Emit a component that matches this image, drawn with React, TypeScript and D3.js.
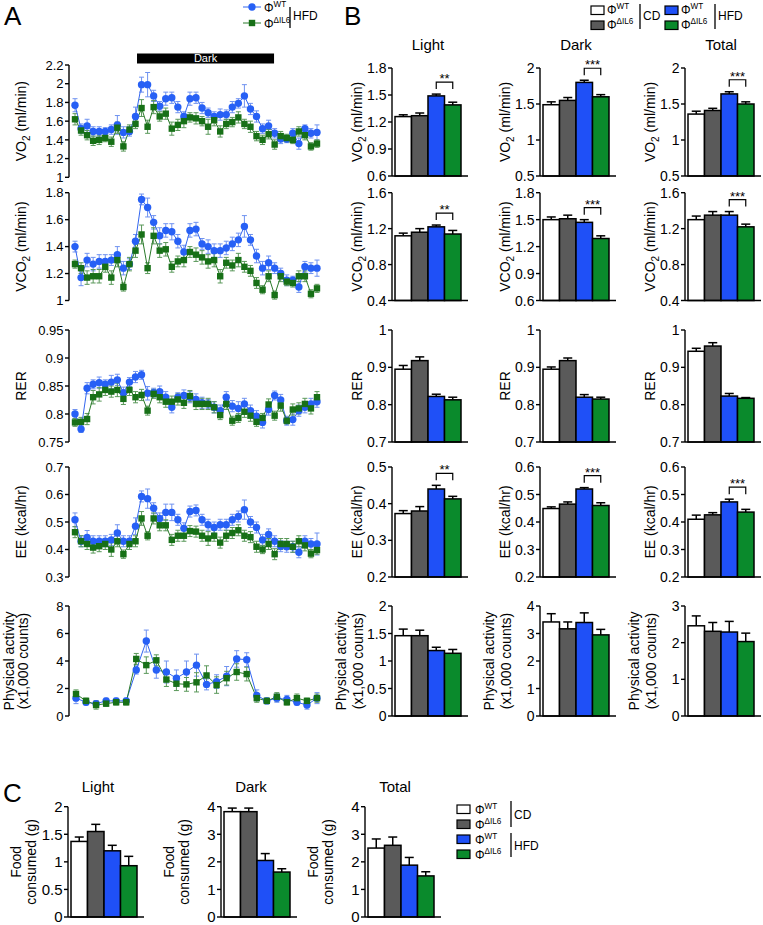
import React from "react";
import * as d3 from "d3";

const FONT = "'Liberation Sans', Arial, Helvetica, sans-serif";

// ---------------- Panel A: time courses (HFD) ----------------
const darkPeriod = [10.25, 32.9];

const vo2Wt = [1.77, 1.52, 1.55, 1.49, 1.49, 1.49, 1.51, 1.56, 1.48, 1.49, 1.65, 1.99, 1.99, 1.87, 1.76, 1.84, 1.85, 1.75, 1.65, 1.84, 1.85, 1.74, 1.69, 1.65, 1.67, 1.67, 1.75, 1.79, 1.87, 1.73, 1.65, 1.52, 1.55, 1.47, 1.41, 1.41, 1.47, 1.36, 1.52, 1.47, 1.48];
const vo2WtErr = [0.07, 0.05, 0.07, 0.05, 0.05, 0.04, 0.05, 0.1, 0.06, 0.05, 0.1, 0.08, 0.13, 0.06, 0.05, 0.07, 0.06, 0.06, 0.05, 0.07, 0.06, 0.06, 0.05, 0.05, 0.06, 0.05, 0.06, 0.05, 0.12, 0.06, 0.06, 0.05, 0.06, 0.05, 0.05, 0.04, 0.05, 0.06, 0.04, 0.05, 0.08];
const vo2Il6 = [1.62, 1.5, 1.45, 1.39, 1.4, 1.42, 1.38, 1.53, 1.33, 1.51, 1.57, 1.74, 1.54, 1.75, 1.65, 1.68, 1.52, 1.56, 1.6, 1.64, 1.63, 1.6, 1.54, 1.61, 1.49, 1.57, 1.59, 1.64, 1.57, 1.54, 1.44, 1.4, 1.46, 1.35, 1.44, 1.42, 1.4, 1.49, 1.45, 1.33, 1.36];
const vo2Il6Err = [0.06, 0.05, 0.05, 0.05, 0.05, 0.04, 0.05, 0.06, 0.05, 0.05, 0.05, 0.09, 0.07, 0.07, 0.05, 0.06, 0.07, 0.06, 0.07, 0.05, 0.06, 0.05, 0.08, 0.06, 0.06, 0.05, 0.05, 0.06, 0.05, 0.06, 0.05, 0.05, 0.05, 0.05, 0.05, 0.04, 0.04, 0.05, 0.05, 0.04, 0.04];

const vco2Wt = [1.4, 1.17, 1.3, 1.27, 1.29, 1.29, 1.3, 1.34, 1.24, 1.27, 1.44, 1.75, 1.69, 1.58, 1.48, 1.52, 1.51, 1.44, 1.36, 1.52, 1.53, 1.42, 1.4, 1.37, 1.37, 1.39, 1.42, 1.45, 1.55, 1.45, 1.33, 1.24, 1.28, 1.24, 1.2, 1.15, 1.15, 1.1, 1.25, 1.24, 1.24];
const vco2WtErr = [0.04, 0.06, 0.05, 0.05, 0.05, 0.05, 0.04, 0.06, 0.05, 0.04, 0.05, 0.04, 0.07, 0.05, 0.06, 0.05, 0.06, 0.05, 0.05, 0.05, 0.05, 0.04, 0.05, 0.05, 0.05, 0.05, 0.05, 0.05, 0.08, 0.04, 0.05, 0.05, 0.05, 0.04, 0.04, 0.04, 0.03, 0.04, 0.04, 0.04, 0.06];
const vco2Il6 = [1.27, 1.24, 1.17, 1.18, 1.18, 1.25, 1.17, 1.3, 1.1, 1.27, 1.37, 1.49, 1.24, 1.48, 1.37, 1.38, 1.25, 1.29, 1.3, 1.36, 1.34, 1.32, 1.29, 1.3, 1.18, 1.28, 1.26, 1.3, 1.25, 1.22, 1.13, 1.08, 1.18, 1.04, 1.18, 1.14, 1.13, 1.18, 1.18, 1.05, 1.09];
const vco2Il6Err = [0.03, 0.04, 0.05, 0.05, 0.05, 0.04, 0.05, 0.05, 0.03, 0.05, 0.05, 0.07, 0.04, 0.06, 0.05, 0.05, 0.04, 0.04, 0.05, 0.04, 0.05, 0.05, 0.05, 0.05, 0.05, 0.04, 0.04, 0.05, 0.04, 0.04, 0.04, 0.03, 0.04, 0.03, 0.04, 0.03, 0.03, 0.04, 0.04, 0.03, 0.03];

const rerWt = [0.8, 0.773, 0.846, 0.853, 0.856, 0.853, 0.857, 0.861, 0.838, 0.857, 0.866, 0.87, 0.837, 0.838, 0.84, 0.83, 0.812, 0.83, 0.833, 0.83, 0.826, 0.82, 0.818, 0.812, 0.806, 0.83, 0.814, 0.81, 0.818, 0.806, 0.796, 0.785, 0.808, 0.833, 0.825, 0.788, 0.79, 0.806, 0.812, 0.818, 0.822];
const rerWtErr = [0.008, 0.006, 0.01, 0.008, 0.01, 0.008, 0.012, 0.01, 0.01, 0.008, 0.01, 0.008, 0.012, 0.008, 0.01, 0.01, 0.01, 0.008, 0.01, 0.01, 0.01, 0.01, 0.008, 0.01, 0.01, 0.01, 0.01, 0.012, 0.01, 0.01, 0.01, 0.01, 0.01, 0.008, 0.01, 0.008, 0.01, 0.01, 0.01, 0.01, 0.01];
const rerIl6 = [0.785, 0.786, 0.791, 0.83, 0.835, 0.843, 0.84, 0.843, 0.827, 0.843, 0.83, 0.834, 0.806, 0.836, 0.83, 0.822, 0.822, 0.826, 0.82, 0.832, 0.818, 0.818, 0.818, 0.812, 0.798, 0.818, 0.788, 0.793, 0.804, 0.797, 0.786, 0.793, 0.817, 0.797, 0.815, 0.788, 0.808, 0.81, 0.818, 0.81, 0.83];
const rerIl6Err = [0.007, 0.008, 0.01, 0.012, 0.012, 0.01, 0.01, 0.012, 0.01, 0.01, 0.01, 0.01, 0.008, 0.008, 0.01, 0.01, 0.01, 0.01, 0.01, 0.01, 0.01, 0.01, 0.01, 0.01, 0.008, 0.01, 0.008, 0.008, 0.01, 0.01, 0.008, 0.008, 0.01, 0.008, 0.01, 0.006, 0.01, 0.01, 0.01, 0.01, 0.01];

const eeWt = [0.508, 0.43, 0.444, 0.43, 0.43, 0.43, 0.435, 0.46, 0.43, 0.43, 0.485, 0.593, 0.585, 0.55, 0.513, 0.535, 0.535, 0.508, 0.477, 0.538, 0.542, 0.508, 0.49, 0.48, 0.49, 0.49, 0.508, 0.52, 0.545, 0.5, 0.48, 0.435, 0.455, 0.43, 0.412, 0.41, 0.41, 0.39, 0.43, 0.42, 0.42];
const eeWtErr = [0.025, 0.02, 0.025, 0.02, 0.02, 0.02, 0.02, 0.03, 0.02, 0.02, 0.03, 0.02, 0.035, 0.02, 0.02, 0.03, 0.03, 0.02, 0.02, 0.02, 0.02, 0.02, 0.02, 0.02, 0.02, 0.02, 0.02, 0.02, 0.035, 0.02, 0.02, 0.02, 0.02, 0.02, 0.02, 0.02, 0.02, 0.02, 0.02, 0.02, 0.04];
const eeIl6 = [0.463, 0.43, 0.42, 0.407, 0.412, 0.42, 0.4, 0.43, 0.383, 0.42, 0.43, 0.513, 0.45, 0.513, 0.488, 0.488, 0.435, 0.45, 0.45, 0.467, 0.465, 0.45, 0.44, 0.45, 0.425, 0.45, 0.46, 0.47, 0.45, 0.445, 0.41, 0.4, 0.42, 0.383, 0.42, 0.42, 0.41, 0.43, 0.415, 0.385, 0.398];
const eeIl6Err = [0.02, 0.02, 0.02, 0.02, 0.02, 0.02, 0.025, 0.02, 0.015, 0.02, 0.02, 0.025, 0.015, 0.02, 0.02, 0.02, 0.02, 0.02, 0.02, 0.02, 0.02, 0.02, 0.025, 0.02, 0.02, 0.02, 0.02, 0.02, 0.02, 0.02, 0.02, 0.015, 0.02, 0.02, 0.02, 0.02, 0.02, 0.02, 0.02, 0.015, 0.015];

const paWt = [1.3, 1.0, 0.9, 1.1, 1.1, 1.1, 3.35, 5.45, 3.35, 3.2, 2.75, 3.2, 3.7, 2.3, 2.5, 2.9, 4.15, 4.1, 1.5, 1.1, 1.3, 1.2, 1.0, 0.8, 1.3];
const paWtErr = [0.4, 0.2, 0.2, 0.2, 0.2, 0.2, 0.3, 0.8, 0.6, 0.8, 0.6, 0.8, 0.8, 0.4, 0.5, 0.7, 0.6, 0.5, 0.4, 0.2, 0.3, 0.3, 0.2, 0.3, 0.4];
const paIl6 = [1.6, 1.1, 0.8, 0.9, 1.0, 1.0, 4.15, 3.7, 4.05, 2.65, 2.35, 2.3, 2.45, 2.95, 2.25, 2.75, 3.2, 3.05, 1.3, 1.1, 1.4, 1.0, 1.3, 1.1, 1.3];
const paIl6Err = [0.3, 0.2, 0.3, 0.2, 0.2, 0.2, 0.4, 0.6, 0.4, 0.5, 0.5, 0.5, 0.7, 0.7, 0.6, 0.5, 0.6, 0.5, 0.3, 0.2, 0.3, 0.2, 0.3, 0.2, 0.3];

const vo2TsTicks = [1, 1.2, 1.4, 1.6, 1.8, 2, 2.2];
const vco2TsTicks = [1, 1.2, 1.4, 1.6, 1.8];
const rerTsTicks = [0.75, 0.8, 0.85, 0.9, 0.95];
const eeTsTicks = [0.3, 0.4, 0.5, 0.6, 0.7];
const paTsTicks = [0, 2, 4, 6, 8];

// ---------------- Panel B: bar charts (Light, Dark, Total) ----------------
const periods = ["Light", "Dark", "Total"];
const vo2Bars = [[1.26, 1.27, 1.49, 1.39], [1.49, 1.55, 1.8, 1.6], [1.36, 1.41, 1.64, 1.5]];
const vo2BarErr = [[0.02, 0.03, 0.02, 0.03], [0.04, 0.04, 0.03, 0.03], [0.04, 0.03, 0.03, 0.03]];
const vo2BarTicks = [[0.6, 0.9, 1.2, 1.5, 1.8], [0.5, 1, 1.5, 2], [0.5, 1, 1.5, 2]];
const vco2Bars = [[1.12, 1.16, 1.22, 1.14], [1.5, 1.51, 1.47, 1.29], [1.3, 1.35, 1.35, 1.22]];
const vco2BarErr = [[0.03, 0.04, 0.02, 0.04], [0.03, 0.04, 0.03, 0.03], [0.04, 0.04, 0.04, 0.03]];
const vco2BarTicks = [[0.4, 0.8, 1.2, 1.6], [0.6, 0.9, 1.2, 1.5, 1.8], [0.4, 0.8, 1.2, 1.6]];
const rerBars = [[0.895, 0.918, 0.822, 0.813], [0.895, 0.918, 0.82, 0.815], [0.943, 0.957, 0.823, 0.817]];
const rerBarErr = [[0.01, 0.01, 0.006, 0.007], [0.006, 0.007, 0.007, 0.005], [0.008, 0.009, 0.007, 0.002]];
const rerBarTicks = [[0.7, 0.8, 0.9, 1], [0.7, 0.8, 0.9, 1], [0.7, 0.8, 0.9, 1]];
const eeBars = [[0.373, 0.38, 0.44, 0.413], [0.449, 0.465, 0.52, 0.46], [0.41, 0.426, 0.473, 0.436]];
const eeBarErr = [[0.008, 0.012, 0.01, 0.007], [0.006, 0.008, 0.005, 0.01], [0.015, 0.008, 0.01, 0.01]];
const eeBarTicks = [[0.2, 0.3, 0.4, 0.5], [0.2, 0.3, 0.4, 0.5, 0.6], [0.2, 0.3, 0.4, 0.5, 0.6]];
const paBars = [[1.46, 1.46, 1.19, 1.14], [3.42, 3.17, 3.4, 2.95], [2.46, 2.31, 2.29, 2.03]];
const paBarErr = [[0.12, 0.1, 0.06, 0.07], [0.3, 0.25, 0.35, 0.2], [0.27, 0.24, 0.29, 0.23]];
const paBarTicks = [[0, 0.5, 1, 1.5, 2], [0, 1, 2, 3, 4], [0, 1, 2, 3]];
const sigVo2 = ["**", "***", "***"];
const sigVco2 = ["**", "***", "***"];
const sigEe = ["**", "***", "***"];

// ---------------- Panel C: food consumed ----------------
const foodBars = [[1.37, 1.55, 1.2, 0.93], [3.82, 3.82, 2.05, 1.63], [2.5, 2.6, 1.88, 1.49]];
const foodBarErr = [[0.08, 0.13, 0.1, 0.17], [0.13, 0.13, 0.25, 0.12], [0.33, 0.3, 0.28, 0.15]];
const foodTicks = [[0, 0.5, 1, 1.5, 2], [0, 1, 2, 3, 4], [0, 1, 2, 3, 4]];

const groupSup = ["WT", "ΔIL6", "WT", "ΔIL6"];
const dietLabels = ["CD", "HFD"];

// ---------------- styles ----------------
const BAR_FILL = ["#ffffff", "#5a5a5a", "#1f50f7", "#0a8a2c"];
const LINE_BLUE = "#3366f0";
const LINE_GREEN = "#2a7a2a";
const PT_BLUE = "#2760f5";
const PT_GREEN = "#177017";
const ERR_BLUE = "#6f92f0";
const ERR_GREEN = "#5a985a";

const fmt = (v: number) => String(v);

function gasLabel(prefix: string) {
  return (
    <>
      {prefix}
      <tspan fontSize={10} dy={4}>2</tspan>
      <tspan dy={-4}> (ml/min)</tspan>
    </>
  );
}

const labelVO2 = gasLabel("VO");
const labelVCO2 = gasLabel("VCO");
const labelRER = "RER";
const labelEE = "EE (kcal/hr)";

function RotText({ x, y, fs, children }: any) {
  return (
    <text transform={`translate(${x},${y}) rotate(-90)`} textAnchor="middle" fontSize={fs}>
      {children}
    </text>
  );
}

function PhiLabel({ x, y, sup, fs = 12 }: any) {
  return (
    <text x={x} y={y} fontSize={fs}>
      Φ<tspan fontSize={fs * 0.68} dy={-5}>{sup}</tspan>
    </text>
  );
}

function YAxis({ x, y, ticks, fs }: any) {
  const top = y(ticks[ticks.length - 1]);
  const bot = y(ticks[0]);
  return (
    <g>
      <line x1={x} x2={x} y1={top} y2={bot} stroke="#000" strokeWidth={1.4} />
      {ticks.map((t: number) => (
        <g key={t}>
          <line x1={x - 4} x2={x} y1={y(t)} y2={y(t)} stroke="#000" strokeWidth={1.4} />
          <text x={x - 5.5} y={y(t)} dy="0.36em" textAnchor="end" fontSize={fs}>{fmt(t)}</text>
        </g>
      ))}
    </g>
  );
}

function TsPanel({ yTop, yBot, ticks, wt, wtErr, il6, il6Err, x }: any) {
  const y = d3.scaleLinear().domain([ticks[0], ticks[ticks.length - 1]]).range([yBot, yTop]);
  const line = d3.line<number>().x((_, i) => x(i)).y((d) => y(d));
  const errs = (vals: number[], e: number[], col: string) =>
    vals.map((v, i) => (
      <g key={i} stroke={col} strokeWidth={1}>
        <line x1={x(i)} x2={x(i)} y1={y(v - e[i])} y2={y(v + e[i])} />
        <line x1={x(i) - 2.5} x2={x(i) + 2.5} y1={y(v + e[i])} y2={y(v + e[i])} />
        <line x1={x(i) - 2.5} x2={x(i) + 2.5} y1={y(v - e[i])} y2={y(v - e[i])} />
      </g>
    ));
  return (
    <g>
      <YAxis x={69} y={y} ticks={ticks} fs={13} />
      {errs(wt, wtErr, ERR_BLUE)}
      {errs(il6, il6Err, ERR_GREEN)}
      <path d={line(wt) || ""} fill="none" stroke={LINE_BLUE} strokeWidth={1} />
      <path d={line(il6) || ""} fill="none" stroke={LINE_GREEN} strokeWidth={1} />
      {wt.map((v: number, i: number) => (
        <circle key={"w" + i} cx={x(i)} cy={y(v)} r={3.7} fill={PT_BLUE} />
      ))}
      {il6.map((v: number, i: number) => (
        <rect key={"g" + i} x={x(i) - 3.2} y={y(v) - 3.2} width={6.4} height={6.4} fill={PT_GREEN} />
      ))}
    </g>
  );
}

function BarPanel({ axisX, yTop, yBot, ticks, vals, errs, sig, fs = 14 }: any) {
  const y = d3.scaleLinear().domain([ticks[0], ticks[ticks.length - 1]]).range([yBot, yTop]);
  const xb = d3.scaleBand<number>().domain([0, 1, 2, 3]).range([axisX + 3, axisX + 69]).padding(0);
  const bw = xb.bandwidth();
  let bracket = null;
  if (sig) {
    const topVal = Math.max(vals[2] + errs[2], vals[3] + errs[3]);
    const legBot = y(topVal) - 5;
    const by = legBot - 7;
    const x1 = (xb(2) as number) + bw / 2;
    const x2 = (xb(3) as number) + bw / 2;
    bracket = (
      <g>
        <path d={`M${x1},${legBot}V${by}H${x2}V${legBot}`} fill="none" stroke="#000" strokeWidth={1.2} />
        <text x={(x1 + x2) / 2} y={by + 1} textAnchor="middle" fontSize={13}>{sig}</text>
      </g>
    );
  }
  return (
    <g>
      {vals.map((v: number, i: number) => {
        const bx = xb(i) as number;
        const cx = bx + bw / 2;
        return (
          <g key={i}>
            <line x1={cx} x2={cx} y1={y(v)} y2={y(v + errs[i])} stroke="#000" strokeWidth={1.5} />
            <line x1={cx - 4.5} x2={cx + 4.5} y1={y(v + errs[i])} y2={y(v + errs[i])} stroke="#000" strokeWidth={1.5} />
            <rect x={bx} y={y(v)} width={bw} height={yBot - y(v)} fill={BAR_FILL[i]} stroke="#000" strokeWidth={1.5} />
          </g>
        );
      })}
      <line x1={axisX} x2={axisX + 76} y1={yBot} y2={yBot} stroke="#000" strokeWidth={1.4} />
      <YAxis x={axisX} y={y} ticks={ticks} fs={fs} />
      {bracket}
    </g>
  );
}

function LegendBox({ x, y, fill }: any) {
  return <rect x={x} y={y} width={13} height={8.5} fill={fill} stroke="#000" strokeWidth={1.2} />;
}

export default function App() {
  const W = 763;
  const H = 925;
  const xTs = d3.scaleLinear().domain([0, vo2Wt.length - 1]).range([75, 317]);
  const xPa = d3.scaleLinear().domain([0, paWt.length - 1]).range([76, 317]);

  const rowsA = [
    { yTop: 65, yBot: 177.3, ticks: vo2TsTicks, wt: vo2Wt, wtErr: vo2WtErr, il6: vo2Il6, il6Err: vo2Il6Err, x: xTs, label: labelVO2 },
    { yTop: 192.7, yBot: 300.5, ticks: vco2TsTicks, wt: vco2Wt, wtErr: vco2WtErr, il6: vco2Il6, il6Err: vco2Il6Err, x: xTs, label: labelVCO2 },
    { yTop: 330, yBot: 442, ticks: rerTsTicks, wt: rerWt, wtErr: rerWtErr, il6: rerIl6, il6Err: rerIl6Err, x: xTs, label: labelRER },
    { yTop: 467, yBot: 577, ticks: eeTsTicks, wt: eeWt, wtErr: eeWtErr, il6: eeIl6, il6Err: eeIl6Err, x: xTs, label: labelEE },
    { yTop: 606, yBot: 716, ticks: paTsTicks, wt: paWt, wtErr: paWtErr, il6: paIl6, il6Err: paIl6Err, x: xPa, label: null },
  ];

  const colX = [392, 540, 685];
  const rowsB = [
    { yTop: 68, yBot: 176, vals: vo2Bars, errs: vo2BarErr, ticks: vo2BarTicks, sig: sigVo2, label: labelVO2 },
    { yTop: 192.7, yBot: 300.5, vals: vco2Bars, errs: vco2BarErr, ticks: vco2BarTicks, sig: sigVco2, label: labelVCO2 },
    { yTop: 330, yBot: 442, vals: rerBars, errs: rerBarErr, ticks: rerBarTicks, sig: null, label: labelRER },
    { yTop: 467, yBot: 577, vals: eeBars, errs: eeBarErr, ticks: eeBarTicks, sig: sigEe, label: labelEE },
    { yTop: 606, yBot: 716, vals: paBars, errs: paBarErr, ticks: paBarTicks, sig: null, label: null },
  ];

  const colC = [68, 221, 365];
  const cTop = 806.7;
  const cBot = 917;

  return (
    <svg width={W} height={H} style={{ position: "absolute", left: 0, top: 0, background: "#fff" }} fontFamily={FONT}>
      <text x={4} y={25} fontSize={26}>A</text>
      <text x={344} y={25} fontSize={26}>B</text>
      <text x={3} y={802} fontSize={26}>C</text>

      <g>
        <line x1={243} x2={261} y1={7} y2={7} stroke={LINE_BLUE} strokeWidth={1} />
        <circle cx={252} cy={7} r={3.7} fill={PT_BLUE} />
        <PhiLabel x={264} y={12} sup="WT" fs={12} />
        <line x1={243} x2={261} y1={23} y2={23} stroke={LINE_GREEN} strokeWidth={1} />
        <rect x={248.8} y={19.8} width={6.4} height={6.4} fill={PT_GREEN} />
        <PhiLabel x={264} y={28} sup="ΔIL6" fs={12} />
        <line x1={290} x2={290} y1={7} y2={28} stroke="#000" strokeWidth={1.3} />
        <text x={293} y={20} fontSize={12}>{dietLabels[1]}</text>
      </g>

      <rect x={xTs(darkPeriod[0])} y={53.5} width={xTs(darkPeriod[1]) - xTs(darkPeriod[0])} height={10} fill="#000" />
      <text x={(xTs(darkPeriod[0]) + xTs(darkPeriod[1])) / 2} y={62} textAnchor="middle" fontSize={11} fill="#fff">Dark</text>

      {rowsA.map((r, k) => (
        <g key={k}>
          <TsPanel {...r} />
          {r.label ? (
            <RotText x={26} y={(r.yTop + r.yBot) / 2} fs={14}>{r.label}</RotText>
          ) : (
            <>
              <RotText x={14} y={(r.yTop + r.yBot) / 2} fs={14}>Physical activity</RotText>
              <RotText x={28} y={(r.yTop + r.yBot) / 2} fs={14}>(x1,000 counts)</RotText>
            </>
          )}
        </g>
      ))}

      <g>
        <LegendBox x={591} y={6} fill={BAR_FILL[0]} />
        <LegendBox x={591} y={21} fill={BAR_FILL[1]} />
        <PhiLabel x={607} y={14} sup={groupSup[0]} fs={12} />
        <PhiLabel x={607} y={29} sup={groupSup[1]} fs={12} />
        <line x1={640} x2={640} y1={4} y2={29} stroke="#000" strokeWidth={1.3} />
        <text x={643} y={20} fontSize={12}>{dietLabels[0]}</text>
        <LegendBox x={665} y={6} fill={BAR_FILL[2]} />
        <LegendBox x={665} y={21} fill={BAR_FILL[3]} />
        <PhiLabel x={681} y={14} sup={groupSup[2]} fs={12} />
        <PhiLabel x={681} y={29} sup={groupSup[3]} fs={12} />
        <line x1={715} x2={715} y1={4} y2={29} stroke="#000" strokeWidth={1.3} />
        <text x={718} y={20} fontSize={12}>{dietLabels[1]}</text>
      </g>

      {periods.map((p, c) => (
        <text key={p} x={colX[c] + 36} y={50} textAnchor="middle" fontSize={15}>{p}</text>
      ))}

      {rowsB.map((r, k) =>
        periods.map((p, c) => (
          <g key={k + "-" + c}>
            <BarPanel axisX={colX[c]} yTop={r.yTop} yBot={r.yBot} ticks={r.ticks[c]} vals={r.vals[c]} errs={r.errs[c]} sig={r.sig ? r.sig[c] : null} />
            {r.label ? (
              <RotText x={colX[c] - 30} y={(r.yTop + r.yBot) / 2} fs={14}>{r.label}</RotText>
            ) : (
              <>
                <RotText x={colX[c] - 46} y={(r.yTop + r.yBot) / 2} fs={14}>Physical activity</RotText>
                <RotText x={colX[c] - 29} y={(r.yTop + r.yBot) / 2} fs={14}>(x1,000 counts)</RotText>
              </>
            )}
          </g>
        ))
      )}

      {periods.map((p, c) => (
        <g key={"c" + p}>
          <text x={colC[c] + 30} y={792} textAnchor="middle" fontSize={15}>{p}</text>
          <BarPanel axisX={colC[c]} yTop={cTop} yBot={cBot} ticks={foodTicks[c]} vals={foodBars[c]} errs={foodBarErr[c]} sig={null} fs={15} />
          <RotText x={colC[c] - 47} y={(cTop + cBot) / 2} fs={14}>Food</RotText>
          <RotText x={colC[c] - 32} y={(cTop + cBot) / 2} fs={14}>consumed (g)</RotText>
        </g>
      ))}

      <g>
        {BAR_FILL.map((f, i) => (
          <g key={"cl" + i}>
            <LegendBox x={457} y={805 + i * 15} fill={f} />
            <PhiLabel x={475} y={813.5 + i * 15} sup={groupSup[i]} fs={12} />
          </g>
        ))}
        <line x1={511} x2={511} y1={801} y2={827} stroke="#000" strokeWidth={1.3} />
        <text x={514} y={819} fontSize={12}>{dietLabels[0]}</text>
        <line x1={511} x2={511} y1={833} y2={857} stroke="#000" strokeWidth={1.3} />
        <text x={514} y={850} fontSize={12}>{dietLabels[1]}</text>
      </g>
    </svg>
  );
}
